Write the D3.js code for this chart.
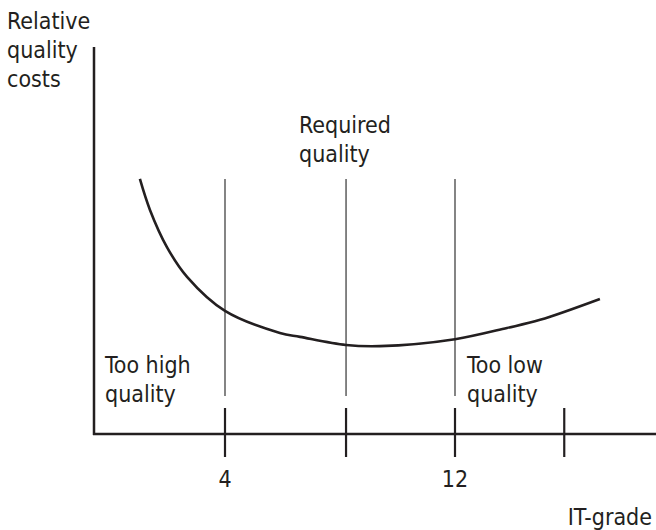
<!DOCTYPE html>
<html>
<head>
<meta charset="utf-8">
<script src="https://cdn.jsdelivr.net/npm/d3@7"></script>
<style>
  html, body { margin: 0; padding: 0; background: #fff; }
  svg text { font-family: "DejaVu Sans Condensed", "Liberation Sans Narrow", sans-serif; font-size: 23px; fill: #231f20; }
</style>
</head>
<body>
<svg id="chart" width="656" height="530"></svg>
<script>
// Quality cost curve over the IT-grade scale
const curveGrades = [1.04, 1.39, 1.98, 2.68, 4.0, 5.91, 6.61, 8.21, 9.39, 12.0, 13.81, 14.96, 17.04];
const curveCosts  = [65.9, 57.9, 48.3, 40.6, 31.8, 26.1, 25.1, 23.0, 22.7, 24.5, 27.4, 29.5, 34.9];

// Tick marks on the grade axis and the labels shown under them
const tickGrades = [4, 8.21, 12, 15.8];
const tickLabels = ["4", "", "12", ""];

// Boundaries of the required-quality band
const boundaryGrades = [4, 8.21, 12];
const boundaryTop = 65.9;
const boundaryBottom = 9.8;

const svg = d3.select("#chart");
const ink = "#231f20";

const x = d3.scaleLinear().domain([0, 12]).range([110, 455]);
const y = d3.scaleLinear().domain([0, 100]).range([434, 47]);
const xStart = 94, xEnd = 656;

// Axes
svg.append("line")
  .attr("x1", xStart).attr("x2", xStart)
  .attr("y1", y(100)).attr("y2", y(0) + 1)
  .attr("stroke", ink).attr("stroke-width", 2.5);
svg.append("line")
  .attr("x1", xStart - 1).attr("x2", xEnd)
  .attr("y1", y(0)).attr("y2", y(0))
  .attr("stroke", ink).attr("stroke-width", 2.5);

// Tick marks crossing the grade axis
svg.selectAll("line.tick").data(tickGrades).join("line")
  .attr("class", "tick")
  .attr("x1", d => x(d)).attr("x2", d => x(d))
  .attr("y1", y(0) - 26).attr("y2", y(0) + 23)
  .attr("stroke", ink).attr("stroke-width", 2.2);

svg.selectAll("text.tickLabel").data(tickGrades).join("text")
  .attr("class", "tickLabel")
  .attr("x", d => x(d)).attr("y", 487)
  .attr("text-anchor", "middle")
  .text((d, i) => tickLabels[i]);

// Thin vertical boundaries
svg.selectAll("line.boundary").data(boundaryGrades).join("line")
  .attr("class", "boundary")
  .attr("x1", d => x(d)).attr("x2", d => x(d))
  .attr("y1", y(boundaryTop)).attr("y2", y(boundaryBottom))
  .attr("stroke", "#333").attr("stroke-width", 1.2);

// Cost curve
const pts = curveGrades.map((g, i) => [g, curveCosts[i]]);
svg.append("path")
  .datum(pts)
  .attr("fill", "none")
  .attr("stroke", ink)
  .attr("stroke-width", 2.6)
  .attr("d", d3.line().x(d => x(d[0])).y(d => y(d[1])).curve(d3.curveCatmullRom.alpha(0.5)));

// Text labels
function block(lines, x0, y0, anchor) {
  const t = svg.append("text").attr("x", x0).attr("y", y0).attr("text-anchor", anchor || "start");
  lines.forEach((s, i) => t.append("tspan").attr("x", x0).attr("dy", i ? 29 : 0).text(s));
}
block(["Relative", "quality", "costs"], 7, 29);
block(["Required", "quality"], 299, 133);
block(["Too high", "quality"], 105, 373);
block(["Too low", "quality"], 467, 373);
block(["IT-grade"], 652, 525, "end");
</script>
</body>
</html>
